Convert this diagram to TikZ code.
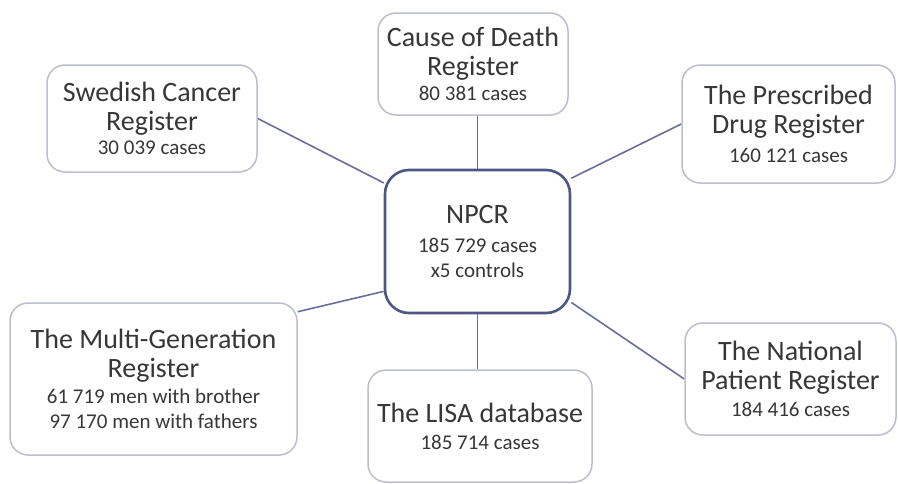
\documentclass[tikz,border=0pt]{standalone}
\usepackage{fontspec}
\setmainfont{Carlito}
\usetikzlibrary{backgrounds}
\definecolor{boxgray}{RGB}{188,190,204}
\definecolor{hubblue}{RGB}{78,86,132}
\definecolor{linkblue}{RGB}{104,110,152}
\definecolor{textgray}{RGB}{55,55,55}
\newcommand{\regfont}{\fontsize{28}{29}\selectfont}
\newcommand{\cntfont}{\fontsize{21}{25}\selectfont}
\tikzset{
  register/.style={draw=boxgray, line width=1.5pt, rounded corners=18pt, fill=white,
    align=center, text=textgray, font=\regfont, inner sep=0pt},
  hub/.style={register, draw=hubblue, line width=2.6pt, rounded corners=24pt},
  link/.style={draw=linkblue, line width=1.6pt}
}

\begin{document}
\begin{tikzpicture}[x=1pt, y=-1pt]
	\useasboundingbox (0,0) rectangle (898,483);
	% Registers:
	\node[hub, minimum width=185pt, minimum height=143pt] (npcr) at (477.5,241.5)
		{NPCR\\{\cntfont 185 729 cases}\\[-4pt]{\cntfont x5 controls}};
	\node[register, minimum width=190pt, minimum height=102pt] (cod) at (473,64)
		{Cause of Death\\Register\\[-4pt]{\cntfont 80 381 cases}};
	\node[register, minimum width=210pt, minimum height=107pt] (scr) at (152,118.5)
		{Swedish Cancer\\Register\\[-5pt]{\cntfont 30 039 cases}};
	\node[register, minimum width=213pt, minimum height=118pt] (pdr) at (788.5,124)
		{The Prescribed\\Drug Register\\{\cntfont 160 121 cases}};
	\node[register, minimum width=287pt, minimum height=152pt] (mgr) at (153.5,379)
		{The Multi-Generation\\Register\\[-3pt]{\cntfont 61 719 men with brother}\\[-4pt]{\cntfont 97 170 men with fathers}};
	\node[register, minimum width=224pt, minimum height=112pt] (lisa) at (480,426)
		{The LISA database\\[-2pt]{\cntfont 185 714 cases}};
	\node[register, minimum width=211pt, minimum height=112pt] (npr) at (790.5,379)
		{The National\\Patient Register\\[-2pt]{\cntfont 184 416 cases}};
	% Links:
	\begin{scope}[on background layer]
		\draw[link] (npcr.north) -- (npcr.north |- cod.south);
		\draw[link] (npcr.south) -- (npcr.south |- lisa.north);
		\draw[link] (scr.east) -- (npcr.148);
		\draw[link] (pdr.west) -- (npcr.34);
		\draw[link] (mgr.25) -- (npcr.208);
		\draw[link] (npr.west) -- (npcr.327);
	\end{scope}
\end{tikzpicture}
\end{document}
